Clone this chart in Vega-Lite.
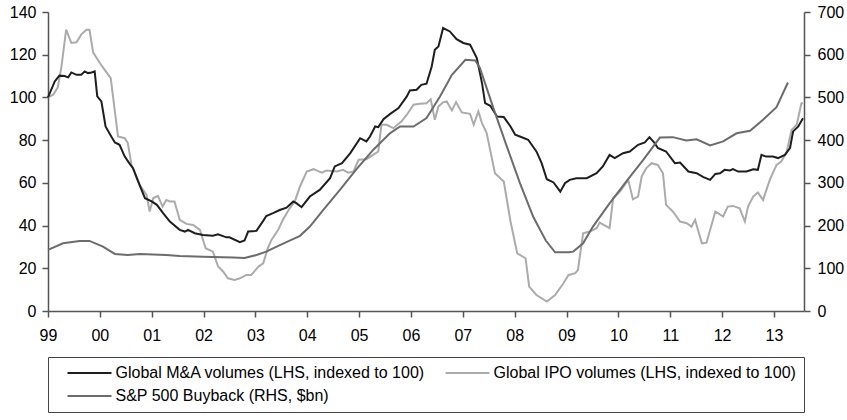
{
  "$schema": "https://vega.github.io/schema/vega-lite/v6.json",
  "width": 756,
  "height": 299,
  "autosize": {"type": "none"},
  "padding": {"left": 48, "top": 12, "right": 43, "bottom": 109},
  "background": "white",
  "config": {
    "view": {"stroke": null},
    "font": "Liberation Sans",
    "axis": {
      "domainColor": "#555555",
      "domainWidth": 1.5,
      "tickColor": "#555555",
      "tickWidth": 1.5,
      "tickSize": 6,
      "labelFont": "Liberation Sans",
      "labelFontSize": 16,
      "labelColor": "#000000",
      "grid": false,
      "title": null
    }
  },
  "datasets": {
    "series": [
      {"s": "Global IPO volumes (LHS, indexed to 100)", "t": 1999.0, "v": 100},
      {"s": "Global IPO volumes (LHS, indexed to 100)", "t": 1999.1, "v": 101.3},
      {"s": "Global IPO volumes (LHS, indexed to 100)", "t": 1999.19, "v": 104.8},
      {"s": "Global IPO volumes (LHS, indexed to 100)", "t": 1999.26, "v": 114.5},
      {"s": "Global IPO volumes (LHS, indexed to 100)", "t": 1999.35, "v": 131.7},
      {"s": "Global IPO volumes (LHS, indexed to 100)", "t": 1999.45, "v": 125.5},
      {"s": "Global IPO volumes (LHS, indexed to 100)", "t": 1999.55, "v": 125.8},
      {"s": "Global IPO volumes (LHS, indexed to 100)", "t": 1999.64, "v": 129.4},
      {"s": "Global IPO volumes (LHS, indexed to 100)", "t": 1999.74, "v": 131.7},
      {"s": "Global IPO volumes (LHS, indexed to 100)", "t": 1999.8, "v": 131.7},
      {"s": "Global IPO volumes (LHS, indexed to 100)", "t": 1999.87, "v": 121.1},
      {"s": "Global IPO volumes (LHS, indexed to 100)", "t": 2000.0, "v": 116.1},
      {"s": "Global IPO volumes (LHS, indexed to 100)", "t": 2000.09, "v": 113},
      {"s": "Global IPO volumes (LHS, indexed to 100)", "t": 2000.21, "v": 109},
      {"s": "Global IPO volumes (LHS, indexed to 100)", "t": 2000.35, "v": 81.7},
      {"s": "Global IPO volumes (LHS, indexed to 100)", "t": 2000.48, "v": 80.9},
      {"s": "Global IPO volumes (LHS, indexed to 100)", "t": 2000.54, "v": 78.6},
      {"s": "Global IPO volumes (LHS, indexed to 100)", "t": 2000.61, "v": 68.4},
      {"s": "Global IPO volumes (LHS, indexed to 100)", "t": 2000.77, "v": 59},
      {"s": "Global IPO volumes (LHS, indexed to 100)", "t": 2000.9, "v": 54.4},
      {"s": "Global IPO volumes (LHS, indexed to 100)", "t": 2000.96, "v": 46.6},
      {"s": "Global IPO volumes (LHS, indexed to 100)", "t": 2001.03, "v": 52.8},
      {"s": "Global IPO volumes (LHS, indexed to 100)", "t": 2001.12, "v": 53.9},
      {"s": "Global IPO volumes (LHS, indexed to 100)", "t": 2001.21, "v": 48.9},
      {"s": "Global IPO volumes (LHS, indexed to 100)", "t": 2001.28, "v": 52},
      {"s": "Global IPO volumes (LHS, indexed to 100)", "t": 2001.35, "v": 51.3},
      {"s": "Global IPO volumes (LHS, indexed to 100)", "t": 2001.44, "v": 51.3},
      {"s": "Global IPO volumes (LHS, indexed to 100)", "t": 2001.54, "v": 42.7},
      {"s": "Global IPO volumes (LHS, indexed to 100)", "t": 2001.67, "v": 40.8},
      {"s": "Global IPO volumes (LHS, indexed to 100)", "t": 2001.8, "v": 40.3},
      {"s": "Global IPO volumes (LHS, indexed to 100)", "t": 2001.93, "v": 38},
      {"s": "Global IPO volumes (LHS, indexed to 100)", "t": 2002.04, "v": 29.4},
      {"s": "Global IPO volumes (LHS, indexed to 100)", "t": 2002.18, "v": 27.8},
      {"s": "Global IPO volumes (LHS, indexed to 100)", "t": 2002.28, "v": 20.8},
      {"s": "Global IPO volumes (LHS, indexed to 100)", "t": 2002.38, "v": 18.4},
      {"s": "Global IPO volumes (LHS, indexed to 100)", "t": 2002.47, "v": 15.3},
      {"s": "Global IPO volumes (LHS, indexed to 100)", "t": 2002.6, "v": 14.5},
      {"s": "Global IPO volumes (LHS, indexed to 100)", "t": 2002.7, "v": 15.3},
      {"s": "Global IPO volumes (LHS, indexed to 100)", "t": 2002.83, "v": 16.9},
      {"s": "Global IPO volumes (LHS, indexed to 100)", "t": 2002.92, "v": 16.9},
      {"s": "Global IPO volumes (LHS, indexed to 100)", "t": 2003.06, "v": 20.8},
      {"s": "Global IPO volumes (LHS, indexed to 100)", "t": 2003.15, "v": 22.3},
      {"s": "Global IPO volumes (LHS, indexed to 100)", "t": 2003.24, "v": 29.4},
      {"s": "Global IPO volumes (LHS, indexed to 100)", "t": 2003.31, "v": 33.3},
      {"s": "Global IPO volumes (LHS, indexed to 100)", "t": 2003.44, "v": 38},
      {"s": "Global IPO volumes (LHS, indexed to 100)", "t": 2003.53, "v": 42.7},
      {"s": "Global IPO volumes (LHS, indexed to 100)", "t": 2003.66, "v": 48.1},
      {"s": "Global IPO volumes (LHS, indexed to 100)", "t": 2003.76, "v": 51.3},
      {"s": "Global IPO volumes (LHS, indexed to 100)", "t": 2003.86, "v": 58.3},
      {"s": "Global IPO volumes (LHS, indexed to 100)", "t": 2003.99, "v": 65.3},
      {"s": "Global IPO volumes (LHS, indexed to 100)", "t": 2004.12, "v": 66.4},
      {"s": "Global IPO volumes (LHS, indexed to 100)", "t": 2004.28, "v": 64.8},
      {"s": "Global IPO volumes (LHS, indexed to 100)", "t": 2004.37, "v": 65.8},
      {"s": "Global IPO volumes (LHS, indexed to 100)", "t": 2004.57, "v": 65.3},
      {"s": "Global IPO volumes (LHS, indexed to 100)", "t": 2004.69, "v": 66.1},
      {"s": "Global IPO volumes (LHS, indexed to 100)", "t": 2004.79, "v": 64.8},
      {"s": "Global IPO volumes (LHS, indexed to 100)", "t": 2004.89, "v": 65.3},
      {"s": "Global IPO volumes (LHS, indexed to 100)", "t": 2004.99, "v": 70.8},
      {"s": "Global IPO volumes (LHS, indexed to 100)", "t": 2005.14, "v": 71.1},
      {"s": "Global IPO volumes (LHS, indexed to 100)", "t": 2005.27, "v": 73.1},
      {"s": "Global IPO volumes (LHS, indexed to 100)", "t": 2005.37, "v": 74.7},
      {"s": "Global IPO volumes (LHS, indexed to 100)", "t": 2005.43, "v": 87.2},
      {"s": "Global IPO volumes (LHS, indexed to 100)", "t": 2005.53, "v": 87.2},
      {"s": "Global IPO volumes (LHS, indexed to 100)", "t": 2005.66, "v": 85.6},
      {"s": "Global IPO volumes (LHS, indexed to 100)", "t": 2005.82, "v": 88.8},
      {"s": "Global IPO volumes (LHS, indexed to 100)", "t": 2005.92, "v": 91.9},
      {"s": "Global IPO volumes (LHS, indexed to 100)", "t": 2006.05, "v": 96.6},
      {"s": "Global IPO volumes (LHS, indexed to 100)", "t": 2006.17, "v": 97},
      {"s": "Global IPO volumes (LHS, indexed to 100)", "t": 2006.3, "v": 97.3},
      {"s": "Global IPO volumes (LHS, indexed to 100)", "t": 2006.38, "v": 99.2},
      {"s": "Global IPO volumes (LHS, indexed to 100)", "t": 2006.46, "v": 89.5},
      {"s": "Global IPO volumes (LHS, indexed to 100)", "t": 2006.53, "v": 95.8},
      {"s": "Global IPO volumes (LHS, indexed to 100)", "t": 2006.62, "v": 97.7},
      {"s": "Global IPO volumes (LHS, indexed to 100)", "t": 2006.69, "v": 98.1},
      {"s": "Global IPO volumes (LHS, indexed to 100)", "t": 2006.79, "v": 93.9},
      {"s": "Global IPO volumes (LHS, indexed to 100)", "t": 2006.87, "v": 97.8},
      {"s": "Global IPO volumes (LHS, indexed to 100)", "t": 2006.98, "v": 93},
      {"s": "Global IPO volumes (LHS, indexed to 100)", "t": 2007.14, "v": 92.3},
      {"s": "Global IPO volumes (LHS, indexed to 100)", "t": 2007.21, "v": 87.2},
      {"s": "Global IPO volumes (LHS, indexed to 100)", "t": 2007.3, "v": 93.4},
      {"s": "Global IPO volumes (LHS, indexed to 100)", "t": 2007.37, "v": 88},
      {"s": "Global IPO volumes (LHS, indexed to 100)", "t": 2007.46, "v": 83.3},
      {"s": "Global IPO volumes (LHS, indexed to 100)", "t": 2007.62, "v": 64.5},
      {"s": "Global IPO volumes (LHS, indexed to 100)", "t": 2007.79, "v": 60.6},
      {"s": "Global IPO volumes (LHS, indexed to 100)", "t": 2007.92, "v": 41.9},
      {"s": "Global IPO volumes (LHS, indexed to 100)", "t": 2008.05, "v": 27},
      {"s": "Global IPO volumes (LHS, indexed to 100)", "t": 2008.21, "v": 24.7},
      {"s": "Global IPO volumes (LHS, indexed to 100)", "t": 2008.28, "v": 11.4},
      {"s": "Global IPO volumes (LHS, indexed to 100)", "t": 2008.42, "v": 7.5},
      {"s": "Global IPO volumes (LHS, indexed to 100)", "t": 2008.62, "v": 4.4},
      {"s": "Global IPO volumes (LHS, indexed to 100)", "t": 2008.78, "v": 7.5},
      {"s": "Global IPO volumes (LHS, indexed to 100)", "t": 2008.94, "v": 13},
      {"s": "Global IPO volumes (LHS, indexed to 100)", "t": 2009.04, "v": 16.9},
      {"s": "Global IPO volumes (LHS, indexed to 100)", "t": 2009.17, "v": 17.7},
      {"s": "Global IPO volumes (LHS, indexed to 100)", "t": 2009.22, "v": 19.2},
      {"s": "Global IPO volumes (LHS, indexed to 100)", "t": 2009.32, "v": 36.4},
      {"s": "Global IPO volumes (LHS, indexed to 100)", "t": 2009.45, "v": 37.2},
      {"s": "Global IPO volumes (LHS, indexed to 100)", "t": 2009.58, "v": 38.8},
      {"s": "Global IPO volumes (LHS, indexed to 100)", "t": 2009.64, "v": 41.4},
      {"s": "Global IPO volumes (LHS, indexed to 100)", "t": 2009.83, "v": 38.8},
      {"s": "Global IPO volumes (LHS, indexed to 100)", "t": 2009.9, "v": 52.8},
      {"s": "Global IPO volumes (LHS, indexed to 100)", "t": 2010.03, "v": 55.9},
      {"s": "Global IPO volumes (LHS, indexed to 100)", "t": 2010.19, "v": 61.4},
      {"s": "Global IPO volumes (LHS, indexed to 100)", "t": 2010.28, "v": 52.3},
      {"s": "Global IPO volumes (LHS, indexed to 100)", "t": 2010.38, "v": 53.6},
      {"s": "Global IPO volumes (LHS, indexed to 100)", "t": 2010.45, "v": 63},
      {"s": "Global IPO volumes (LHS, indexed to 100)", "t": 2010.54, "v": 66.9},
      {"s": "Global IPO volumes (LHS, indexed to 100)", "t": 2010.64, "v": 69.2},
      {"s": "Global IPO volumes (LHS, indexed to 100)", "t": 2010.76, "v": 68.4},
      {"s": "Global IPO volumes (LHS, indexed to 100)", "t": 2010.86, "v": 64.5},
      {"s": "Global IPO volumes (LHS, indexed to 100)", "t": 2010.92, "v": 49.7},
      {"s": "Global IPO volumes (LHS, indexed to 100)", "t": 2011.05, "v": 46.6},
      {"s": "Global IPO volumes (LHS, indexed to 100)", "t": 2011.19, "v": 41.9},
      {"s": "Global IPO volumes (LHS, indexed to 100)", "t": 2011.32, "v": 41.1},
      {"s": "Global IPO volumes (LHS, indexed to 100)", "t": 2011.41, "v": 39.5},
      {"s": "Global IPO volumes (LHS, indexed to 100)", "t": 2011.48, "v": 42.7},
      {"s": "Global IPO volumes (LHS, indexed to 100)", "t": 2011.61, "v": 31.7},
      {"s": "Global IPO volumes (LHS, indexed to 100)", "t": 2011.7, "v": 32},
      {"s": "Global IPO volumes (LHS, indexed to 100)", "t": 2011.87, "v": 46.6},
      {"s": "Global IPO volumes (LHS, indexed to 100)", "t": 2012.02, "v": 44.2},
      {"s": "Global IPO volumes (LHS, indexed to 100)", "t": 2012.11, "v": 48.9},
      {"s": "Global IPO volumes (LHS, indexed to 100)", "t": 2012.21, "v": 49.2},
      {"s": "Global IPO volumes (LHS, indexed to 100)", "t": 2012.34, "v": 48.1},
      {"s": "Global IPO volumes (LHS, indexed to 100)", "t": 2012.44, "v": 41.9},
      {"s": "Global IPO volumes (LHS, indexed to 100)", "t": 2012.5, "v": 48.9},
      {"s": "Global IPO volumes (LHS, indexed to 100)", "t": 2012.6, "v": 53.6},
      {"s": "Global IPO volumes (LHS, indexed to 100)", "t": 2012.69, "v": 55.5},
      {"s": "Global IPO volumes (LHS, indexed to 100)", "t": 2012.79, "v": 52},
      {"s": "Global IPO volumes (LHS, indexed to 100)", "t": 2012.92, "v": 61.4},
      {"s": "Global IPO volumes (LHS, indexed to 100)", "t": 2013.05, "v": 68.4},
      {"s": "Global IPO volumes (LHS, indexed to 100)", "t": 2013.14, "v": 70},
      {"s": "Global IPO volumes (LHS, indexed to 100)", "t": 2013.24, "v": 73.9},
      {"s": "Global IPO volumes (LHS, indexed to 100)", "t": 2013.34, "v": 84.8},
      {"s": "Global IPO volumes (LHS, indexed to 100)", "t": 2013.44, "v": 87.2},
      {"s": "Global IPO volumes (LHS, indexed to 100)", "t": 2013.53, "v": 97.3},
      {"s": "Global IPO volumes (LHS, indexed to 100)", "t": 2013.56, "v": 97.3},

      {"s": "Global M&A volumes (LHS, indexed to 100)", "t": 1999.0, "v": 100},
      {"s": "Global M&A volumes (LHS, indexed to 100)", "t": 1999.13, "v": 107.5},
      {"s": "Global M&A volumes (LHS, indexed to 100)", "t": 1999.22, "v": 110.2},
      {"s": "Global M&A volumes (LHS, indexed to 100)", "t": 1999.32, "v": 110},
      {"s": "Global M&A volumes (LHS, indexed to 100)", "t": 1999.39, "v": 109.4},
      {"s": "Global M&A volumes (LHS, indexed to 100)", "t": 1999.45, "v": 111.7},
      {"s": "Global M&A volumes (LHS, indexed to 100)", "t": 1999.55, "v": 110.6},
      {"s": "Global M&A volumes (LHS, indexed to 100)", "t": 1999.64, "v": 110.6},
      {"s": "Global M&A volumes (LHS, indexed to 100)", "t": 1999.71, "v": 112.2},
      {"s": "Global M&A volumes (LHS, indexed to 100)", "t": 1999.77, "v": 111.4},
      {"s": "Global M&A volumes (LHS, indexed to 100)", "t": 1999.84, "v": 111.7},
      {"s": "Global M&A volumes (LHS, indexed to 100)", "t": 1999.9, "v": 112.2},
      {"s": "Global M&A volumes (LHS, indexed to 100)", "t": 1999.95, "v": 100.5},
      {"s": "Global M&A volumes (LHS, indexed to 100)", "t": 2000.03, "v": 98.1},
      {"s": "Global M&A volumes (LHS, indexed to 100)", "t": 2000.11, "v": 86.4},
      {"s": "Global M&A volumes (LHS, indexed to 100)", "t": 2000.22, "v": 81.7},
      {"s": "Global M&A volumes (LHS, indexed to 100)", "t": 2000.29, "v": 78.9},
      {"s": "Global M&A volumes (LHS, indexed to 100)", "t": 2000.38, "v": 77.8},
      {"s": "Global M&A volumes (LHS, indexed to 100)", "t": 2000.48, "v": 72.3},
      {"s": "Global M&A volumes (LHS, indexed to 100)", "t": 2000.58, "v": 68.8},
      {"s": "Global M&A volumes (LHS, indexed to 100)", "t": 2000.64, "v": 66.9},
      {"s": "Global M&A volumes (LHS, indexed to 100)", "t": 2000.74, "v": 60.6},
      {"s": "Global M&A volumes (LHS, indexed to 100)", "t": 2000.87, "v": 52.8},
      {"s": "Global M&A volumes (LHS, indexed to 100)", "t": 2001.0, "v": 51.3},
      {"s": "Global M&A volumes (LHS, indexed to 100)", "t": 2001.1, "v": 49.7},
      {"s": "Global M&A volumes (LHS, indexed to 100)", "t": 2001.22, "v": 45.8},
      {"s": "Global M&A volumes (LHS, indexed to 100)", "t": 2001.35, "v": 41.9},
      {"s": "Global M&A volumes (LHS, indexed to 100)", "t": 2001.54, "v": 38.0},
      {"s": "Global M&A volumes (LHS, indexed to 100)", "t": 2001.64, "v": 37.2},
      {"s": "Global M&A volumes (LHS, indexed to 100)", "t": 2001.7, "v": 38},
      {"s": "Global M&A volumes (LHS, indexed to 100)", "t": 2001.83, "v": 36.4},
      {"s": "Global M&A volumes (LHS, indexed to 100)", "t": 2001.99, "v": 35.6},
      {"s": "Global M&A volumes (LHS, indexed to 100)", "t": 2002.18, "v": 35.2},
      {"s": "Global M&A volumes (LHS, indexed to 100)", "t": 2002.28, "v": 35.9},
      {"s": "Global M&A volumes (LHS, indexed to 100)", "t": 2002.44, "v": 34.5},
      {"s": "Global M&A volumes (LHS, indexed to 100)", "t": 2002.5, "v": 34.5},
      {"s": "Global M&A volumes (LHS, indexed to 100)", "t": 2002.7, "v": 32.2},
      {"s": "Global M&A volumes (LHS, indexed to 100)", "t": 2002.79, "v": 33},
      {"s": "Global M&A volumes (LHS, indexed to 100)", "t": 2002.86, "v": 37.2},
      {"s": "Global M&A volumes (LHS, indexed to 100)", "t": 2003.02, "v": 37.5},
      {"s": "Global M&A volumes (LHS, indexed to 100)", "t": 2003.15, "v": 42.2},
      {"s": "Global M&A volumes (LHS, indexed to 100)", "t": 2003.21, "v": 44.5},
      {"s": "Global M&A volumes (LHS, indexed to 100)", "t": 2003.34, "v": 45.8},
      {"s": "Global M&A volumes (LHS, indexed to 100)", "t": 2003.47, "v": 47.3},
      {"s": "Global M&A volumes (LHS, indexed to 100)", "t": 2003.6, "v": 48.4},
      {"s": "Global M&A volumes (LHS, indexed to 100)", "t": 2003.73, "v": 51.3},
      {"s": "Global M&A volumes (LHS, indexed to 100)", "t": 2003.79, "v": 50.5},
      {"s": "Global M&A volumes (LHS, indexed to 100)", "t": 2003.89, "v": 48.6},
      {"s": "Global M&A volumes (LHS, indexed to 100)", "t": 2004.05, "v": 53.6},
      {"s": "Global M&A volumes (LHS, indexed to 100)", "t": 2004.24, "v": 56.7},
      {"s": "Global M&A volumes (LHS, indexed to 100)", "t": 2004.44, "v": 62.2},
      {"s": "Global M&A volumes (LHS, indexed to 100)", "t": 2004.53, "v": 67.7},
      {"s": "Global M&A volumes (LHS, indexed to 100)", "t": 2004.67, "v": 69.2},
      {"s": "Global M&A volumes (LHS, indexed to 100)", "t": 2004.83, "v": 73.9},
      {"s": "Global M&A volumes (LHS, indexed to 100)", "t": 2005.02, "v": 80.9},
      {"s": "Global M&A volumes (LHS, indexed to 100)", "t": 2005.14, "v": 79.4},
      {"s": "Global M&A volumes (LHS, indexed to 100)", "t": 2005.21, "v": 81.7},
      {"s": "Global M&A volumes (LHS, indexed to 100)", "t": 2005.31, "v": 86.4},
      {"s": "Global M&A volumes (LHS, indexed to 100)", "t": 2005.37, "v": 86.1},
      {"s": "Global M&A volumes (LHS, indexed to 100)", "t": 2005.47, "v": 89.8},
      {"s": "Global M&A volumes (LHS, indexed to 100)", "t": 2005.6, "v": 92.3},
      {"s": "Global M&A volumes (LHS, indexed to 100)", "t": 2005.76, "v": 95},
      {"s": "Global M&A volumes (LHS, indexed to 100)", "t": 2005.92, "v": 100.5},
      {"s": "Global M&A volumes (LHS, indexed to 100)", "t": 2005.98, "v": 103.3},
      {"s": "Global M&A volumes (LHS, indexed to 100)", "t": 2006.11, "v": 103.6},
      {"s": "Global M&A volumes (LHS, indexed to 100)", "t": 2006.2, "v": 105.9},
      {"s": "Global M&A volumes (LHS, indexed to 100)", "t": 2006.3, "v": 106.4},
      {"s": "Global M&A volumes (LHS, indexed to 100)", "t": 2006.4, "v": 114.5},
      {"s": "Global M&A volumes (LHS, indexed to 100)", "t": 2006.46, "v": 122.3},
      {"s": "Global M&A volumes (LHS, indexed to 100)", "t": 2006.53, "v": 123.9},
      {"s": "Global M&A volumes (LHS, indexed to 100)", "t": 2006.62, "v": 132.5},
      {"s": "Global M&A volumes (LHS, indexed to 100)", "t": 2006.75, "v": 130.9},
      {"s": "Global M&A volumes (LHS, indexed to 100)", "t": 2006.88, "v": 127.3},
      {"s": "Global M&A volumes (LHS, indexed to 100)", "t": 2007.01, "v": 125.5},
      {"s": "Global M&A volumes (LHS, indexed to 100)", "t": 2007.14, "v": 124.7},
      {"s": "Global M&A volumes (LHS, indexed to 100)", "t": 2007.27, "v": 118.4},
      {"s": "Global M&A volumes (LHS, indexed to 100)", "t": 2007.37, "v": 106.7},
      {"s": "Global M&A volumes (LHS, indexed to 100)", "t": 2007.43, "v": 97.3},
      {"s": "Global M&A volumes (LHS, indexed to 100)", "t": 2007.53, "v": 96.1},
      {"s": "Global M&A volumes (LHS, indexed to 100)", "t": 2007.66, "v": 91.1},
      {"s": "Global M&A volumes (LHS, indexed to 100)", "t": 2007.79, "v": 90.8},
      {"s": "Global M&A volumes (LHS, indexed to 100)", "t": 2007.92, "v": 86.4},
      {"s": "Global M&A volumes (LHS, indexed to 100)", "t": 2008.01, "v": 82.5},
      {"s": "Global M&A volumes (LHS, indexed to 100)", "t": 2008.1, "v": 81.7},
      {"s": "Global M&A volumes (LHS, indexed to 100)", "t": 2008.26, "v": 80.2},
      {"s": "Global M&A volumes (LHS, indexed to 100)", "t": 2008.42, "v": 74.7},
      {"s": "Global M&A volumes (LHS, indexed to 100)", "t": 2008.52, "v": 69.2},
      {"s": "Global M&A volumes (LHS, indexed to 100)", "t": 2008.62, "v": 61.7},
      {"s": "Global M&A volumes (LHS, indexed to 100)", "t": 2008.75, "v": 60.2},
      {"s": "Global M&A volumes (LHS, indexed to 100)", "t": 2008.88, "v": 55.9},
      {"s": "Global M&A volumes (LHS, indexed to 100)", "t": 2008.97, "v": 59.8},
      {"s": "Global M&A volumes (LHS, indexed to 100)", "t": 2009.06, "v": 61.4},
      {"s": "Global M&A volumes (LHS, indexed to 100)", "t": 2009.19, "v": 62.2},
      {"s": "Global M&A volumes (LHS, indexed to 100)", "t": 2009.39, "v": 62.2},
      {"s": "Global M&A volumes (LHS, indexed to 100)", "t": 2009.58, "v": 64.5},
      {"s": "Global M&A volumes (LHS, indexed to 100)", "t": 2009.7, "v": 67.7},
      {"s": "Global M&A volumes (LHS, indexed to 100)", "t": 2009.83, "v": 73.1},
      {"s": "Global M&A volumes (LHS, indexed to 100)", "t": 2009.93, "v": 71.6},
      {"s": "Global M&A volumes (LHS, indexed to 100)", "t": 2010.09, "v": 73.9},
      {"s": "Global M&A volumes (LHS, indexed to 100)", "t": 2010.22, "v": 74.7},
      {"s": "Global M&A volumes (LHS, indexed to 100)", "t": 2010.38, "v": 77.8},
      {"s": "Global M&A volumes (LHS, indexed to 100)", "t": 2010.51, "v": 78.9},
      {"s": "Global M&A volumes (LHS, indexed to 100)", "t": 2010.6, "v": 81.4},
      {"s": "Global M&A volumes (LHS, indexed to 100)", "t": 2010.7, "v": 78.6},
      {"s": "Global M&A volumes (LHS, indexed to 100)", "t": 2010.76, "v": 76.3},
      {"s": "Global M&A volumes (LHS, indexed to 100)", "t": 2010.92, "v": 74.7},
      {"s": "Global M&A volumes (LHS, indexed to 100)", "t": 2011.09, "v": 69.2},
      {"s": "Global M&A volumes (LHS, indexed to 100)", "t": 2011.19, "v": 69.5},
      {"s": "Global M&A volumes (LHS, indexed to 100)", "t": 2011.35, "v": 65.3},
      {"s": "Global M&A volumes (LHS, indexed to 100)", "t": 2011.51, "v": 64.5},
      {"s": "Global M&A volumes (LHS, indexed to 100)", "t": 2011.64, "v": 62.7},
      {"s": "Global M&A volumes (LHS, indexed to 100)", "t": 2011.77, "v": 61.4},
      {"s": "Global M&A volumes (LHS, indexed to 100)", "t": 2011.87, "v": 64.2},
      {"s": "Global M&A volumes (LHS, indexed to 100)", "t": 2011.96, "v": 64.5},
      {"s": "Global M&A volumes (LHS, indexed to 100)", "t": 2012.05, "v": 66.1},
      {"s": "Global M&A volumes (LHS, indexed to 100)", "t": 2012.15, "v": 65.8},
      {"s": "Global M&A volumes (LHS, indexed to 100)", "t": 2012.21, "v": 66.4},
      {"s": "Global M&A volumes (LHS, indexed to 100)", "t": 2012.31, "v": 65.3},
      {"s": "Global M&A volumes (LHS, indexed to 100)", "t": 2012.47, "v": 65.3},
      {"s": "Global M&A volumes (LHS, indexed to 100)", "t": 2012.6, "v": 66.4},
      {"s": "Global M&A volumes (LHS, indexed to 100)", "t": 2012.69, "v": 66.1},
      {"s": "Global M&A volumes (LHS, indexed to 100)", "t": 2012.76, "v": 73.1},
      {"s": "Global M&A volumes (LHS, indexed to 100)", "t": 2012.85, "v": 72.3},
      {"s": "Global M&A volumes (LHS, indexed to 100)", "t": 2012.98, "v": 72.3},
      {"s": "Global M&A volumes (LHS, indexed to 100)", "t": 2013.08, "v": 71.6},
      {"s": "Global M&A volumes (LHS, indexed to 100)", "t": 2013.21, "v": 73.1},
      {"s": "Global M&A volumes (LHS, indexed to 100)", "t": 2013.31, "v": 76.3},
      {"s": "Global M&A volumes (LHS, indexed to 100)", "t": 2013.37, "v": 84.1},
      {"s": "Global M&A volumes (LHS, indexed to 100)", "t": 2013.47, "v": 86.4},
      {"s": "Global M&A volumes (LHS, indexed to 100)", "t": 2013.56, "v": 90.3}
    ],
    "buyback": [
      {"s": "S&P 500 Buyback (RHS, $bn)", "t": 1999.0, "v": 143},
      {"s": "S&P 500 Buyback (RHS, $bn)", "t": 1999.29, "v": 158.6},
      {"s": "S&P 500 Buyback (RHS, $bn)", "t": 1999.61, "v": 164},
      {"s": "S&P 500 Buyback (RHS, $bn)", "t": 1999.8, "v": 164},
      {"s": "S&P 500 Buyback (RHS, $bn)", "t": 2000.06, "v": 150.8},
      {"s": "S&P 500 Buyback (RHS, $bn)", "t": 2000.29, "v": 133.6},
      {"s": "S&P 500 Buyback (RHS, $bn)", "t": 2000.54, "v": 131},
      {"s": "S&P 500 Buyback (RHS, $bn)", "t": 2000.77, "v": 133.6},
      {"s": "S&P 500 Buyback (RHS, $bn)", "t": 2001.28, "v": 131},
      {"s": "S&P 500 Buyback (RHS, $bn)", "t": 2001.54, "v": 129},
      {"s": "S&P 500 Buyback (RHS, $bn)", "t": 2001.99, "v": 127},
      {"s": "S&P 500 Buyback (RHS, $bn)", "t": 2002.57, "v": 125},
      {"s": "S&P 500 Buyback (RHS, $bn)", "t": 2002.79, "v": 124},
      {"s": "S&P 500 Buyback (RHS, $bn)", "t": 2003.02, "v": 131},
      {"s": "S&P 500 Buyback (RHS, $bn)", "t": 2003.21, "v": 139},
      {"s": "S&P 500 Buyback (RHS, $bn)", "t": 2003.41, "v": 150.8},
      {"s": "S&P 500 Buyback (RHS, $bn)", "t": 2003.66, "v": 164.8},
      {"s": "S&P 500 Buyback (RHS, $bn)", "t": 2003.86, "v": 176},
      {"s": "S&P 500 Buyback (RHS, $bn)", "t": 2004.05, "v": 197.7},
      {"s": "S&P 500 Buyback (RHS, $bn)", "t": 2004.31, "v": 236.7},
      {"s": "S&P 500 Buyback (RHS, $bn)", "t": 2004.63, "v": 283.6},
      {"s": "S&P 500 Buyback (RHS, $bn)", "t": 2004.95, "v": 332},
      {"s": "S&P 500 Buyback (RHS, $bn)", "t": 2005.27, "v": 377},
      {"s": "S&P 500 Buyback (RHS, $bn)", "t": 2005.6, "v": 416.4},
      {"s": "S&P 500 Buyback (RHS, $bn)", "t": 2005.79, "v": 432},
      {"s": "S&P 500 Buyback (RHS, $bn)", "t": 2006.05, "v": 432},
      {"s": "S&P 500 Buyback (RHS, $bn)", "t": 2006.3, "v": 451.6},
      {"s": "S&P 500 Buyback (RHS, $bn)", "t": 2006.56, "v": 502},
      {"s": "S&P 500 Buyback (RHS, $bn)", "t": 2006.79, "v": 553},
      {"s": "S&P 500 Buyback (RHS, $bn)", "t": 2007.05, "v": 588},
      {"s": "S&P 500 Buyback (RHS, $bn)", "t": 2007.24, "v": 586.7},
      {"s": "S&P 500 Buyback (RHS, $bn)", "t": 2007.33, "v": 568.8},
      {"s": "S&P 500 Buyback (RHS, $bn)", "t": 2007.59, "v": 475},
      {"s": "S&P 500 Buyback (RHS, $bn)", "t": 2007.85, "v": 385},
      {"s": "S&P 500 Buyback (RHS, $bn)", "t": 2008.1, "v": 300},
      {"s": "S&P 500 Buyback (RHS, $bn)", "t": 2008.36, "v": 220},
      {"s": "S&P 500 Buyback (RHS, $bn)", "t": 2008.6, "v": 165},
      {"s": "S&P 500 Buyback (RHS, $bn)", "t": 2008.78, "v": 137.5},
      {"s": "S&P 500 Buyback (RHS, $bn)", "t": 2009.04, "v": 137.5},
      {"s": "S&P 500 Buyback (RHS, $bn)", "t": 2009.13, "v": 139},
      {"s": "S&P 500 Buyback (RHS, $bn)", "t": 2009.32, "v": 158.6},
      {"s": "S&P 500 Buyback (RHS, $bn)", "t": 2009.51, "v": 197.7},
      {"s": "S&P 500 Buyback (RHS, $bn)", "t": 2009.83, "v": 252},
      {"s": "S&P 500 Buyback (RHS, $bn)", "t": 2010.15, "v": 303},
      {"s": "S&P 500 Buyback (RHS, $bn)", "t": 2010.48, "v": 354},
      {"s": "S&P 500 Buyback (RHS, $bn)", "t": 2010.8, "v": 406},
      {"s": "S&P 500 Buyback (RHS, $bn)", "t": 2011.05, "v": 407},
      {"s": "S&P 500 Buyback (RHS, $bn)", "t": 2011.31, "v": 399},
      {"s": "S&P 500 Buyback (RHS, $bn)", "t": 2011.51, "v": 402},
      {"s": "S&P 500 Buyback (RHS, $bn)", "t": 2011.77, "v": 387.5},
      {"s": "S&P 500 Buyback (RHS, $bn)", "t": 2012.02, "v": 397},
      {"s": "S&P 500 Buyback (RHS, $bn)", "t": 2012.28, "v": 416},
      {"s": "S&P 500 Buyback (RHS, $bn)", "t": 2012.54, "v": 422},
      {"s": "S&P 500 Buyback (RHS, $bn)", "t": 2012.79, "v": 447.7},
      {"s": "S&P 500 Buyback (RHS, $bn)", "t": 2013.05, "v": 477},
      {"s": "S&P 500 Buyback (RHS, $bn)", "t": 2013.27, "v": 535}
    ]
  },
  "encoding": {
    "x": {
      "field": "t",
      "type": "quantitative",
      "scale": {"domain": [1999, 2013.58], "nice": false, "zero": false},
      "axis": {
        "values": [1999, 2000, 2001, 2002, 2003, 2004, 2005, 2006, 2007, 2008, 2009, 2010, 2011, 2012, 2013],
        "labelExpr": "slice(toString(datum.value), 2)",
        "labelPadding": 10,
        "labelFlush": false,
        "labelOverlap": false
      }
    },
    "color": {
      "field": "s",
      "type": "nominal",
      "scale": {
        "domain": ["Global M&A volumes (LHS, indexed to 100)", "Global IPO volumes (LHS, indexed to 100)", "S&P 500 Buyback (RHS, $bn)"],
        "range": ["#1e1e1e", "#ababab", "#6c6c6c"]
      },
      "legend": {
        "title": null,
        "orient": "none",
        "legendX": 0,
        "legendY": 345,
        "columns": 2,
        "direction": "horizontal",
        "strokeColor": "#444444",
        "padding": 8,
        "columnPadding": 9,
        "rowPadding": 7,
        "symbolType": "M-4,0H4",
        "symbolSize": 121,
        "symbolOffset": 25.5,
        "symbolStrokeWidth": 2,
        "labelFont": "Liberation Sans",
        "labelFontSize": 16,
        "labelColor": "#000000",
        "labelLimit": 400,
        "labelOffset": 18
      }
    }
  },
  "layer": [
    {
      "data": {"name": "series"},
      "mark": {"type": "line", "strokeWidth": 2},
      "encoding": {
        "y": {
          "field": "v",
          "type": "quantitative",
          "scale": {"domain": [0, 140], "nice": false},
          "axis": {"orient": "left", "values": [0, 20, 40, 60, 80, 100, 120, 140], "labelPadding": 6}
        }
      }
    },
    {
      "data": {"name": "buyback"},
      "mark": {"type": "line", "strokeWidth": 2},
      "encoding": {
        "y": {
          "field": "v",
          "type": "quantitative",
          "scale": {"domain": [0, 700], "nice": false},
          "axis": {"orient": "right", "values": [0, 100, 200, 300, 400, 500, 600, 700], "labelPadding": 7}
        }
      }
    }
  ],
  "resolve": {"scale": {"y": "independent"}}
}
